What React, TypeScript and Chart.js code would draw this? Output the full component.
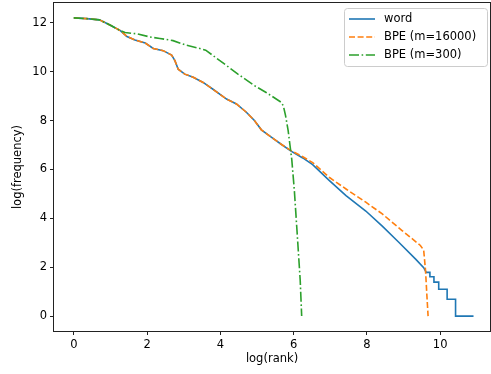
import React, { useEffect, useRef } from "react";
import { Chart, registerables } from "chart.js";

Chart.register(...registerables);

// ---- Data (natural log of rank vs natural log of frequency) ----
const wordX = [0, 0.35, 0.7, 1.0, 1.27, 1.45, 1.67, 1.95, 2.17, 2.44, 2.67, 2.76, 2.85, 3.03, 3.26, 3.53, 3.8, 4.17, 4.44, 4.71, 4.93, 5.12, 5.39, 5.66, 5.93, 6.25, 6.52, 6.97, 7.43, 7.97, 8.42, 8.87, 9.33, 9.55, 9.62, 9.72, 9.72, 9.83, 9.83, 9.96, 9.96, 10.19, 10.19, 10.42, 10.42, 10.91];
const wordY = [12.2, 12.17, 12.12, 11.9, 11.68, 11.44, 11.3, 11.17, 10.95, 10.86, 10.68, 10.45, 10.1, 9.9, 9.77, 9.56, 9.28, 8.88, 8.68, 8.34, 8.0, 7.62, 7.32, 7.03, 6.75, 6.47, 6.2, 5.55, 4.93, 4.3, 3.68, 3.02, 2.33, 1.98, 1.79, 1.79, 1.61, 1.61, 1.39, 1.39, 1.1, 1.1, 0.69, 0.69, 0, 0];

const bpe16kX = [0, 0.35, 0.7, 1.0, 1.27, 1.45, 1.67, 1.95, 2.17, 2.44, 2.67, 2.76, 2.85, 3.03, 3.26, 3.53, 3.8, 4.17, 4.44, 4.71, 4.93, 5.12, 5.39, 5.66, 5.93, 6.25, 6.52, 6.97, 7.43, 7.97, 8.42, 8.96, 9.46, 9.55, 9.6, 9.64, 9.67];
const bpe16kY = [12.2, 12.17, 12.12, 11.9, 11.68, 11.44, 11.3, 11.17, 10.95, 10.86, 10.68, 10.45, 10.1, 9.9, 9.77, 9.56, 9.28, 8.88, 8.68, 8.34, 8.0, 7.62, 7.32, 7.03, 6.77, 6.52, 6.28, 5.68, 5.2, 4.66, 4.18, 3.5, 2.89, 2.7, 1.87, 0.78, 0];

const bpe300X = [0, 0.35, 0.7, 1.0, 1.27, 1.4, 1.72, 2.08, 2.35, 2.71, 3.08, 3.44, 3.6, 3.8, 4.17, 4.48, 4.93, 5.25, 5.66, 5.72, 5.78, 5.85, 5.9, 5.95, 6.02, 6.11, 6.18, 6.22];
const bpe300Y = [12.2, 12.17, 12.12, 11.9, 11.68, 11.6, 11.55, 11.42, 11.36, 11.27, 11.08, 10.95, 10.88, 10.66, 10.25, 9.9, 9.43, 9.15, 8.75, 8.6, 8.2, 7.6, 7.0, 6.4, 5.14, 3.09, 1.46, 0];

const seriesLabels = ["word", "BPE (m=16000)", "BPE (m=300)"];
const seriesColors = ["#1f77b4", "#ff7f0e", "#2ca02c"];
const seriesDashes: number[][] = [[], [6, 2.6], [10, 2.6, 1.6, 2.6]];

const xTickValues = [0, 2, 4, 6, 8, 10];
const yTickValues = [0, 2, 4, 6, 8, 10, 12];
const xTitle = "log(rank)";
const yTitle = "log(frequency)";

const FONT = "'DejaVu Sans', sans-serif";
const FONT_SIZE = 11.5;

const toPoints = (xs: number[], ys: number[]) => xs.map((x, i) => ({ x, y: ys[i] }));

const zeroPad = (s: any) => {
  s.paddingTop = 0;
  s.paddingBottom = 0;
  s.paddingLeft = 0;
  s.paddingRight = 0;
};

const framePlugin = {
  id: "frameAndLegend",
  afterDraw(chart: any) {
    const { ctx, chartArea } = chart;
    const { left, right, top, bottom } = chartArea;
    ctx.save();
    // spines
    ctx.strokeStyle = "#222";
    ctx.lineWidth = 1;
    ctx.setLineDash([]);
    ctx.strokeRect(Math.round(left) - 0.5, Math.round(top) - 0.5, Math.round(right - left) + 1, Math.round(bottom - top) + 1);

    // legend box
    const bx = 344.5, by = 8.5, bw = 143, bh = 58, r = 3;
    ctx.beginPath();
    ctx.moveTo(bx + r, by);
    ctx.lineTo(bx + bw - r, by);
    ctx.arcTo(bx + bw, by, bx + bw, by + r, r);
    ctx.lineTo(bx + bw, by + bh - r);
    ctx.arcTo(bx + bw, by + bh, bx + bw - r, by + bh, r);
    ctx.lineTo(bx + r, by + bh);
    ctx.arcTo(bx, by + bh, bx, by + bh - r, r);
    ctx.lineTo(bx, by + r);
    ctx.arcTo(bx, by, bx + r, by, r);
    ctx.closePath();
    ctx.fillStyle = "rgba(255,255,255,0.8)";
    ctx.fill();
    ctx.strokeStyle = "#cccccc";
    ctx.stroke();

    const rowsY = [19, 37, 55];
    ctx.font = `${FONT_SIZE}px ${FONT}`;
    ctx.textBaseline = "middle";
    ctx.textAlign = "left";
    seriesLabels.forEach((lab, i) => {
      const y = rowsY[i];
      ctx.beginPath();
      ctx.setLineDash(seriesDashes[i]);
      ctx.strokeStyle = seriesColors[i];
      ctx.lineWidth = 1.6;
      ctx.moveTo(349, y);
      ctx.lineTo(375, y);
      ctx.stroke();
      ctx.setLineDash([]);
      ctx.fillStyle = "#000";
      ctx.fillText(lab, 384, y);
    });
    ctx.restore();
  },
};

export default function App() {
  const ref = useRef<HTMLCanvasElement | null>(null);
  useEffect(() => {
    if (!ref.current) return;
    const chart = new Chart(ref.current, {
      type: "scatter",
      data: {
        datasets: [
          { label: seriesLabels[0], data: toPoints(wordX, wordY), order: 3 },
          { label: seriesLabels[1], data: toPoints(bpe16kX, bpe16kY), order: 2 },
          { label: seriesLabels[2], data: toPoints(bpe300X, bpe300Y), order: 1 },
        ].map((d, i) => ({
          ...d,
          showLine: true,
          borderColor: seriesColors[i],
          backgroundColor: seriesColors[i],
          borderWidth: 1.6,
          borderDash: seriesDashes[i],
          pointRadius: 0,
          pointHoverRadius: 0,
          tension: 0,
          fill: false,
        })),
      },
      options: {
        responsive: false,
        devicePixelRatio: 1,
        animation: false,
        events: [],
        layout: { padding: { left: 0, right: 1, top: 3, bottom: 0 } },
        plugins: { legend: { display: false }, tooltip: { enabled: false } },
        scales: {
          x: {
            type: "linear",
            min: -0.54,
            max: 11.36,
            afterBuildTicks: (s: any) => {
              s.ticks = xTickValues.map((v) => ({ value: v }));
            },
            afterFit: (s: any) => {
              s.height = 43;
              zeroPad(s);
            },
            grid: { drawOnChartArea: false, drawTicks: true, tickLength: 4, color: "#222" },
            border: { display: false },
            ticks: { color: "#000", font: { family: FONT, size: FONT_SIZE }, padding: 3, maxRotation: 0, autoSkip: false },
            title: { display: true, text: xTitle, color: "#000", font: { family: FONT, size: FONT_SIZE }, padding: { top: 0, bottom: 8.5 } },
          },
          y: {
            type: "linear",
            min: -0.61,
            max: 12.81,
            afterBuildTicks: (s: any) => {
              s.ticks = yTickValues.map((v) => ({ value: v }));
            },
            afterFit: (s: any) => {
              s.width = 54;
              zeroPad(s);
            },
            grid: { drawOnChartArea: false, drawTicks: true, tickLength: 4, color: "#222" },
            border: { display: false },
            ticks: { color: "#000", font: { family: FONT, size: FONT_SIZE }, padding: 3, autoSkip: false },
            title: { display: true, text: yTitle, color: "#000", font: { family: FONT, size: FONT_SIZE }, padding: { top: 11.4, bottom: 0 } },
          },
        },
      },
      plugins: [framePlugin],
    });
    return () => chart.destroy();
  }, []);
  return (
    <div style={{ position: "absolute", left: 0, top: 0, width: 491, height: 374, background: "#fff" }}>
      <canvas ref={ref} width={491} height={374} style={{ display: "block", width: 491, height: 374 }} />
    </div>
  );
}
